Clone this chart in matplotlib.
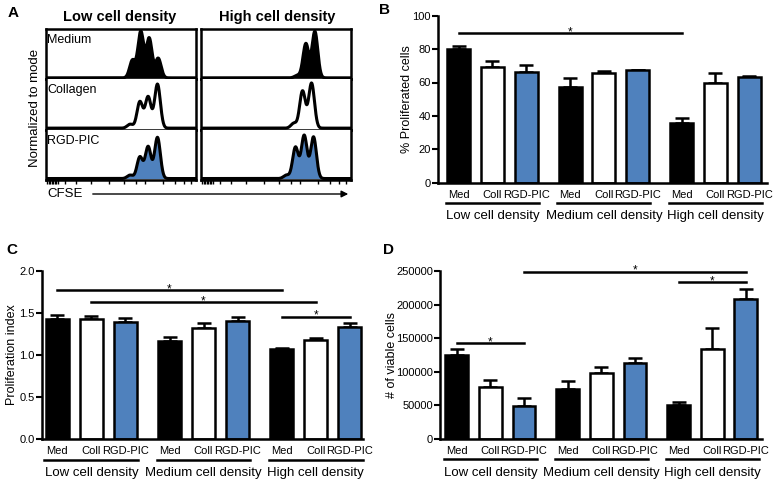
import numpy as np
import matplotlib.pyplot as plt
from matplotlib.patches import FancyArrowPatch

plt.rcParams['font.family'] = ['Liberation Sans', 'DejaVu Sans']

W, H = 773, 482
BLUE = '#4F81BD'

# ------------------------------------------------------------------
# data
# ------------------------------------------------------------------
groups = ['Low cell density', 'Medium cell density', 'High cell density']
conds = ['Med', 'Coll', 'RGD-PIC']
bar_x = [0, 1, 2, 3.3, 4.3, 5.3, 6.6, 7.6, 8.6]
bar_colors = ['black', 'white', BLUE] * 3

prolif_mean = [80.2, 69.5, 66.0, 57.5, 65.9, 67.3, 35.5, 59.9, 63.5]
prolif_sem = [1.8, 3.4, 4.5, 5.0, 1.0, 0.3, 3.2, 5.6, 0.3]
index_mean = [1.43, 1.43, 1.395, 1.17, 1.32, 1.40, 1.067, 1.18, 1.336]
index_sem = [0.05, 0.03, 0.045, 0.04, 0.055, 0.05, 0.013, 0.025, 0.044]
viable_mean = [125000, 77900, 49600, 74400, 97700, 112600, 51100, 133400, 208300]
viable_sem = [8400, 9900, 11400, 11400, 9900, 7400, 3500, 31300, 15400]

# significance brackets: (bar i, bar j, height)
sig_B = [(0, 6, 89.4)]
sig_C = [(0, 6, 1.77), (1, 7, 1.63), (6, 8, 1.455)]
sig_D = [(2, 8, 249000), (6, 8, 233000), (0, 2, 142400)]

# CFSE histograms: generation peaks (position in window, height)
hist_rows = ['Medium', 'Collagen', 'RGD-PIC']
hist_fill = ['black', 'white', BLUE]
hist_low = [
    ([0.578, 0.633, 0.689, 0.749], [0.36, 0.945, 0.81, 0.40]),
    ([0.562, 0.627, 0.682, 0.744], [0.08, 0.54, 0.64, 0.90]),
    ([0.562, 0.627, 0.682, 0.744], [0.07, 0.44, 0.65, 0.84]),
]
hist_high = [
    ([0.644, 0.700, 0.760], [0.05, 0.70, 0.95]),
    ([0.620, 0.678, 0.738], [0.10, 0.76, 0.92]),
    ([0.571, 0.631, 0.689, 0.751], [0.07, 0.64, 0.88, 0.85]),
]
cfse_ticks = [0.01, 0.02, 0.03, 0.04, 0.05, 0.06, 0.07, 0.08, 0.13, 0.2,
              0.3, 0.42, 0.52, 0.6, 0.66, 0.78, 0.86, 0.92, 0.97]


def fig_rect(x0, y0, x1, y1):
    """pixel box (top-left origin) -> figure fraction rect"""
    return [x0 / W, 1 - y1 / H, (x1 - x0) / W, (y1 - y0) / H]


fig = plt.figure(figsize=(W / 100, H / 100), dpi=100)

# ------------------------------------------------------------------
# Panel A: CFSE histograms
# ------------------------------------------------------------------
xs = np.linspace(0, 1, 800)
sigma = 0.019
row_edges = [29, 79.3, 129.6, 180]
for col, (x0, x1, peaks) in enumerate([(45.5, 196, hist_low), (200.5, 351, hist_high)]):
    for r in range(3):
        ax = fig.add_axes(fig_rect(x0, row_edges[r], x1, row_edges[r + 1]))
        cs, hs = peaks[r]
        ys = np.zeros_like(xs)
        for c, h in zip(cs, hs):
            ys += h * np.exp(-(xs - c) ** 2 / (2 * sigma ** 2))
        ax.fill_between(xs, 0, ys, color=hist_fill[r], lw=0)
        ax.plot(xs, ys, color='black', lw=2.2)
        ax.set_xlim(0, 1)
        ax.set_ylim(-0.03, 1.0)
        ax.set_yticks([])
        for s in ax.spines.values():
            s.set_linewidth(1.8)
        if r > 0:
            ax.spines['top'].set_visible(False)
        if r == 2:
            ax.set_xticks(cfse_ticks)
            ax.set_xticklabels([])
            ax.tick_params(axis='x', length=3, width=1.0, direction='out')
        else:
            ax.set_xticks([])
        if col == 0:
            ax.text(0.01, 0.78, hist_rows[r], transform=ax.transAxes,
                    fontsize=9, ha='left', va='center')

fig.text(120 / W, 1 - 17 / H, 'Low cell density', fontsize=10.5, fontweight='bold',
         ha='center', va='center')
fig.text(277 / W, 1 - 17 / H, 'High cell density', fontsize=10.5, fontweight='bold',
         ha='center', va='center')
fig.text(35 / W, 1 - 108 / H, 'Normalized to mode', fontsize=9.5, rotation=90,
         ha='center', va='center')
fig.text(47 / W, 1 - 194 / H, 'CFSE', fontsize=9.5, ha='left', va='center')
fig.add_artist(FancyArrowPatch((90 / W, 1 - 194 / H), (351 / W, 1 - 194 / H),
                               transform=fig.transFigure, arrowstyle='-|>',
                               mutation_scale=10, lw=1.0, color='black'))


# ------------------------------------------------------------------
# bar panels
# ------------------------------------------------------------------
def bar_panel(rect, means, sems, ylim, yticks, yticklabels, ylabel, sigs, xlim, lpad):
    ax = fig.add_axes(rect)
    ax.bar(bar_x, means, width=0.68, color=bar_colors, edgecolor='black',
           linewidth=1.8, zorder=2)
    ax.errorbar(bar_x, means, yerr=[np.zeros(len(sems)), sems], fmt='none',
                ecolor='black', elinewidth=1.8, capsize=5, capthick=1.8, zorder=1)
    ax.set_xlim(*xlim)
    ax.set_ylim(*ylim)
    ax.set_yticks(yticks)
    ax.set_yticklabels(yticklabels, fontsize=8)
    ax.set_ylabel(ylabel, fontsize=9, labelpad=lpad)
    ax.set_xticks(bar_x)
    ax.set_xticklabels(conds * 3, fontsize=8)
    ax.tick_params(axis='x', length=0, pad=5)
    ax.tick_params(axis='y', length=4, width=1.5, pad=1)
    for s in ['top', 'right']:
        ax.spines[s].set_visible(False)
    for s in ['left', 'bottom']:
        ax.spines[s].set_linewidth(1.8)
    tr = ax.get_xaxis_transform()
    for g in range(3):
        xa = bar_x[3 * g] - 0.38
        xb = bar_x[3 * g + 2] + 0.38
        ax.plot([xa, xb], [-0.12, -0.12], color='black', lw=1.8,
                transform=tr, clip_on=False)
        ax.text((xa + xb) / 2, -0.2, groups[g], transform=tr, fontsize=9.5,
                ha='center', va='center')
    for i, j, y in sigs:
        ax.plot([bar_x[i], bar_x[j]], [y, y], color='black', lw=1.8, clip_on=False)
        ax.annotate('*', ((bar_x[i] + bar_x[j]) / 2, y), xytext=(0, -1.5),
                    textcoords='offset points', fontsize=8.5,
                    ha='center', va='baseline')
    return ax


axB = bar_panel(fig_rect(438, 15.7, 767, 182.7), prolif_mean, prolif_sem,
                (0, 100), [0, 20, 40, 60, 80, 100],
                ['0', '20', '40', '60', '80', '100'],
                '% Proliferated cells', sig_B, (-0.61, 9.13), 0)
axC = bar_panel(fig_rect(41.7, 270.7, 363, 439.3), index_mean, index_sem,
                (0, 2.0), [0, 0.5, 1.0, 1.5, 2.0],
                ['0.0', '0.5', '1.0', '1.5', '2.0'],
                'Proliferation index', sig_C, (-0.46, 8.99), 1)
axD = bar_panel(fig_rect(440, 271, 761.7, 439), viable_mean, viable_sem,
                (0, 250000), [0, 50000, 100000, 150000, 200000, 250000],
                ['0', '50000', '100000', '150000', '200000', '250000'],
                '# of viable cells', sig_D, (-0.5, 9.07), -1)

# panel letters
for lab, px, py in [('A', 13, 13), ('B', 385, 10), ('C', 12, 250), ('D', 388, 250)]:
    fig.text(px / W, 1 - py / H, lab, fontsize=11, fontweight='bold',
             ha='center', va='center')

fig.savefig('out.png', dpi=100)
